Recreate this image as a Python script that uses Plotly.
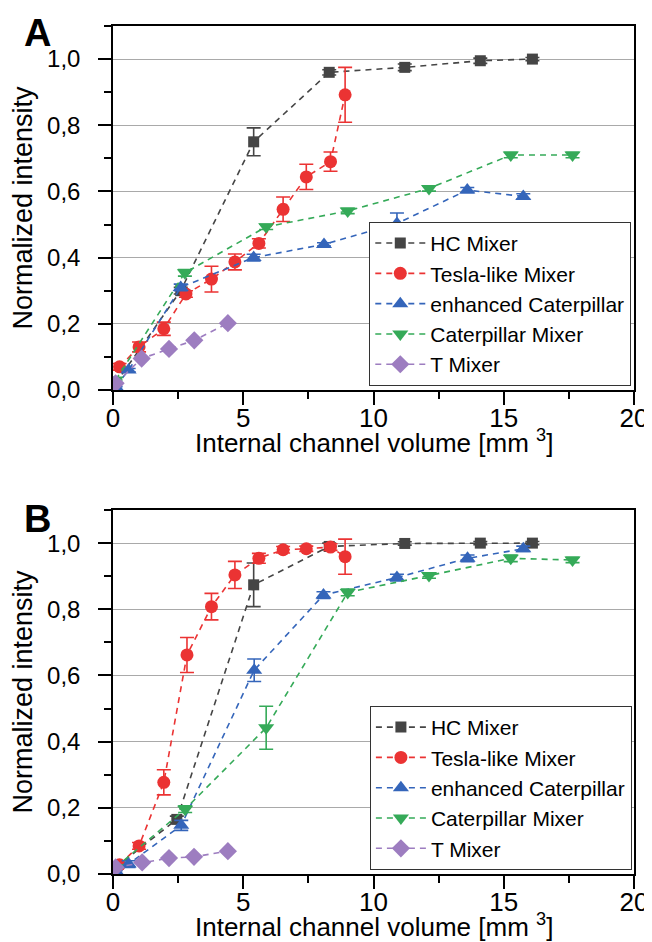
import plotly.graph_objects as go

# ---------------- data ----------------
series_names = ["HC Mixer", "Tesla-like Mixer", "enhanced Caterpillar", "Caterpillar Mixer", "T Mixer"]
x_title = "Internal channel volume [mm <sup>3</sup>]"
y_title = "Normalized intensity"
panel_labels = ["A", "B"]

# Panel A
hc_a_x = [0.1, 2.6, 5.4, 8.3, 11.2, 14.1, 16.1]
hc_a_y = [0.02, 0.30, 0.75, 0.96, 0.975, 0.995, 1.0]
hc_a_e = [0.0, 0.01, 0.042, 0.008, 0.01, 0.008, 0.005]

tesla_a_x = [0.25, 1.0, 1.95, 2.8, 3.78, 4.68, 5.6, 6.53, 7.42, 8.35, 8.91]
tesla_a_y = [0.07, 0.13, 0.185, 0.29, 0.335, 0.387, 0.443, 0.546, 0.644, 0.69, 0.892]
tesla_a_e = [0.01, 0.015, 0.02, 0.01, 0.039, 0.024, 0.014, 0.037, 0.038, 0.029, 0.083]

enh_a_x = [0.1, 0.6, 2.6, 5.4, 8.1, 10.9, 13.6, 15.75]
enh_a_y = [0.01, 0.06, 0.31, 0.40, 0.44, 0.503, 0.604, 0.585]
enh_a_e = [0.0, 0.005, 0.01, 0.01, 0.005, 0.032, 0.008, 0.008]

cat_a_x = [0.1, 2.76, 5.88, 9.01, 12.13, 15.27, 17.64]
cat_a_y = [0.03, 0.354, 0.493, 0.541, 0.609, 0.71, 0.71]
cat_a_e = [0.0, 0.01, 0.008, 0.008, 0.008, 0.008, 0.008]

t_a_x = [0.1, 1.1, 2.15, 3.12, 4.41]
t_a_y = [0.02, 0.095, 0.124, 0.15, 0.202]
t_a_e = [0.0, 0.0, 0.0, 0.0, 0.0]

# Panel B
hc_b_x = [0.1, 2.45, 5.4, 8.3, 11.2, 14.1, 16.1]
hc_b_y = [0.02, 0.165, 0.874, 0.99, 0.999, 1.0, 1.0]
hc_b_e = [0.0, 0.01, 0.066, 0.01, 0.005, 0.005, 0.005]

tesla_b_x = [0.25, 1.0, 1.95, 2.84, 3.78, 4.68, 5.6, 6.53, 7.42, 8.35, 8.91]
tesla_b_y = [0.028, 0.085, 0.277, 0.662, 0.808, 0.904, 0.954, 0.98, 0.983, 0.988, 0.959]
tesla_b_e = [0.005, 0.01, 0.038, 0.053, 0.04, 0.041, 0.015, 0.01, 0.008, 0.01, 0.053]

enh_b_x = [0.1, 0.6, 2.62, 5.42, 8.08, 10.9, 13.61, 15.75]
enh_b_y = [0.01, 0.03, 0.147, 0.616, 0.843, 0.896, 0.954, 0.983]
enh_b_e = [0.0, 0.01, 0.015, 0.034, 0.01, 0.01, 0.01, 0.008]

cat_b_x = [0.1, 2.77, 5.88, 9.01, 12.13, 15.27, 17.64]
cat_b_y = [0.02, 0.196, 0.442, 0.851, 0.902, 0.954, 0.949]
cat_b_e = [0.0, 0.01, 0.065, 0.01, 0.008, 0.01, 0.008]

t_b_x = [0.1, 1.12, 2.15, 3.11, 4.41]
t_b_y = [0.02, 0.035, 0.048, 0.052, 0.069]
t_b_e = [0.0, 0.0, 0.0, 0.0, 0.0]

x_tick_vals = [0, 5, 10, 15, 20]
y_tick_vals = [0.0, 0.2, 0.4, 0.6, 0.8, 1.0]

# ---------------- styles ----------------
colors = ["#454545", "#EB3333", "#3465BA", "#35AA58", "#9D7DC0"]
symbols = ["square", "circle", "triangle-up", "triangle-down", "diamond"]
sizes = [11, 13, 14, 14, 14]
FONT = "Liberation Sans, Arial, Helvetica, sans-serif"

panel_a = [(hc_a_x, hc_a_y, hc_a_e), (tesla_a_x, tesla_a_y, tesla_a_e),
           (enh_a_x, enh_a_y, enh_a_e), (cat_a_x, cat_a_y, cat_a_e),
           (t_a_x, t_a_y, t_a_e)]
panel_b = [(hc_b_x, hc_b_y, hc_b_e), (tesla_b_x, tesla_b_y, tesla_b_e),
           (enh_b_x, enh_b_y, enh_b_e), (cat_b_x, cat_b_y, cat_b_e),
           (t_b_x, t_b_y, t_b_e)]

fig = go.Figure()

def add_panel(data, xa, ya, legend):
    for i, (xs, ys, es) in enumerate(data):
        fig.add_trace(go.Scatter(
            x=xs, y=ys, name=series_names[i], mode="lines+markers",
            xaxis=xa, yaxis=ya, legend=legend,
            line=dict(color=colors[i], width=1.6, dash="6px,5px"),
            marker=dict(symbol=symbols[i], size=sizes[i], color=colors[i],
                        line=dict(width=0)),
            error_y=dict(type="data", array=es, visible=True,
                         color=colors[i], thickness=1.6, width=7),
        ))

add_panel(panel_a, "x", "y", "legend")
add_panel(panel_b, "x2", "y2", "legend2")

axis_common = dict(
    showline=True, linecolor="black", linewidth=1.5, mirror=True,
    ticks="outside", ticklen=13, tickwidth=1.5, tickcolor="black",
    zeroline=False,
)

xaxis_common = dict(
    axis_common, range=[0, 20], tickvals=x_tick_vals, showgrid=False,
    tickfont=dict(family=FONT, size=26, color="black"),
    ticklabelstandoff=-9, ticklabeloverflow="allow",
    minor=dict(ticks="outside", ticklen=7, dtick=2.5, tickwidth=1.5,
               tickcolor="black", showgrid=False),
)
yaxis_common = dict(
    axis_common, range=[0, 1.1], tickvals=y_tick_vals, tickformat=".1f",
    tickfont=dict(family=FONT, size=24, color="black"),
    showgrid=True, gridcolor="#A9A9A9", gridwidth=1.3,
    ticklabelstandoff=13,
    minor=dict(ticks="outside", ticklen=7, dtick=0.1, tickwidth=1.5,
               tickcolor="black", showgrid=False),
    title=dict(text=y_title,
               font=dict(family=FONT, size=27, color="black"), standoff=8),
)

legend_common = dict(
    font=dict(family=FONT, size=21, color="black"),
    bgcolor="white", bordercolor="#333333", borderwidth=1.2,
    xanchor="right", yanchor="bottom", itemwidth=50,
    tracegroupgap=0,
)

title_font = dict(family=FONT, size=26, color="black")
letter_font = dict(family=FONT, size=38, color="black")

fig.update_layout(
    width=652, height=942,
    margin=dict(l=104, r=17, t=18, b=76),
    paper_bgcolor="white", plot_bgcolor="white",
    separators=",.",
    font=dict(family=FONT, color="black"),
    xaxis=dict(xaxis_common, domain=[0, 1], anchor="y"),
    yaxis=dict(yaxis_common, domain=[0.5708, 1], anchor="x"),
    xaxis2=dict(xaxis_common, domain=[0, 1], anchor="y2"),
    yaxis2=dict(yaxis_common, domain=[0, 0.4292], anchor="x2"),
    legend=dict(legend_common, x=0.9944, y=0.5758),
    legend2=dict(legend_common, x=0.9956, y=0.005),
    annotations=[
        dict(text=x_title, xref="paper", yref="paper", x=0.5, y=0.5095,
             xanchor="center", yanchor="middle", showarrow=False, font=title_font),
        dict(text=x_title, xref="paper", yref="paper", x=0.5, y=-0.0605,
             xanchor="center", yanchor="middle", showarrow=False, font=title_font),
        dict(text="<b>" + panel_labels[0] + "</b>", xref="paper", yref="paper",
             x=-0.145, y=0.992, xanchor="center", yanchor="middle",
             showarrow=False, font=letter_font),
        dict(text="<b>" + panel_labels[1] + "</b>", xref="paper", yref="paper",
             x=-0.145, y=0.4186, xanchor="center", yanchor="middle",
             showarrow=False, font=letter_font),
    ],
)

fig.write_html("out.html")
